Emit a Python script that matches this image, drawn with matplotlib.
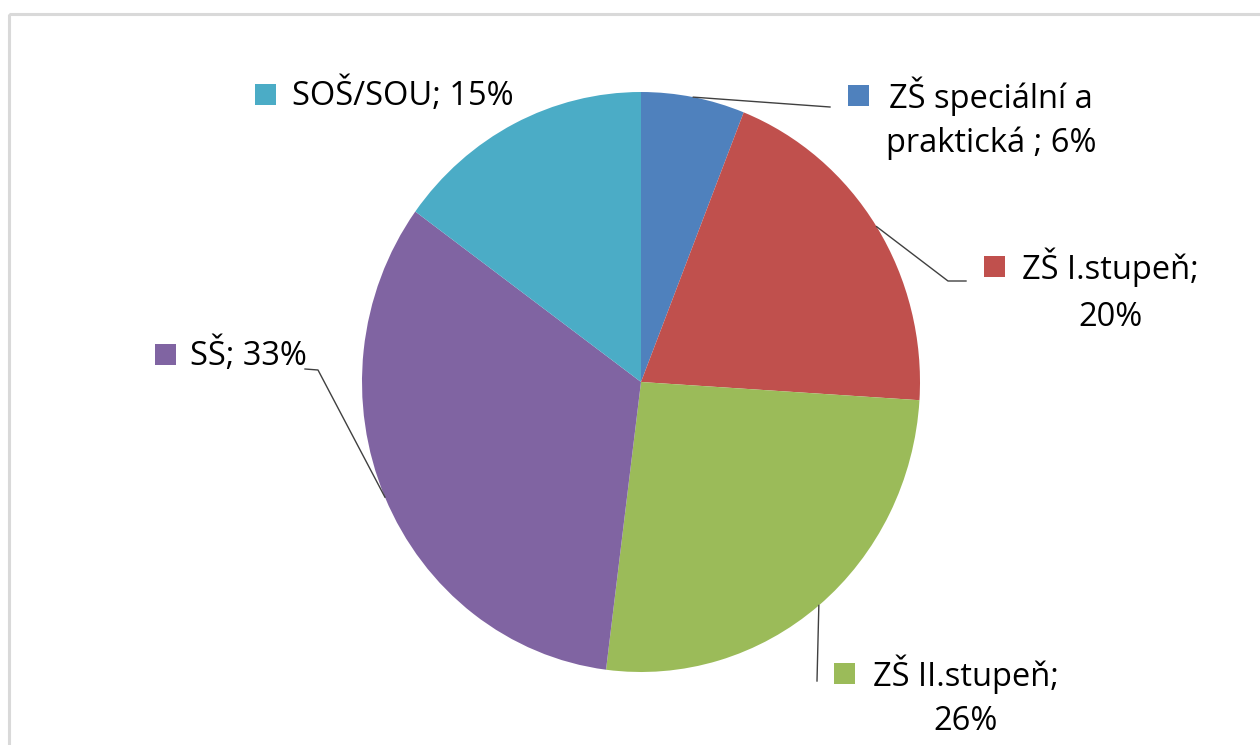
import matplotlib
matplotlib.use("Agg")
import matplotlib.pyplot as plt
import numpy as np

# data
labels = ["ZŠ speciální a praktická ", "ZŠ I.stupeň", "ZŠ II.stupeň", "SŠ", "SOŠ/SOU"]
values = [6, 20, 26, 33, 15]
colors = ["#4F81BD", "#C0504D", "#9BBB59", "#8064A2", "#4BACC6"]

# label text split in lines as in the original
label_lines = [
    ("ZŠ speciální a", "praktická ; 6%"),
    ("ZŠ I.stupeň;", "20%"),
    ("ZŠ II.stupeň;", "26%"),
    ("SŠ; 33%", None),
    ("SOŠ/SOU; 15%", None),
]
marker_pos = [(858, 95), (994, 266), (844, 673), (165, 354), (265, 94)]
text_left = [889, 1022, 873, 190, 292]
line_gap = [47, 51, 48, 0, 0]
leader_pts = [
    [(830, 107)],
    [(948, 281), (966, 281)],
    [(817, 681)],
    [(318, 370), (305, 369)],
    None,
]

W, H = 1260, 745
cx, cy, rx, ry = 641, 382, 279, 290

plt.rcParams['font.family'] = ['Open Sans', 'DejaVu Sans']
fig = plt.figure(figsize=(W / 100, H / 100), dpi=100)

# pie axes (slightly elliptical like the original)
pax = fig.add_axes([(cx - rx) / W, (H - cy - ry) / H, 2 * rx / W, 2 * ry / H])
wedges, _ = pax.pie(values, colors=colors, startangle=90, counterclock=False,
                    wedgeprops=dict(linewidth=0))
pax.set_aspect('auto')
pax.set_xlim(-1, 1)
pax.set_ylim(-1, 1)
pax.axis('off')

# overlay in pixel coordinates
ax = fig.add_axes([0, 0, 1, 1], zorder=3)
ax.set_xlim(0, W)
ax.set_ylim(H, 0)
ax.axis('off')
ax.patch.set_alpha(0)

# frame
ax.add_patch(plt.Rectangle((9, 14), W, H, fill=False, edgecolor="#d9d9d9", lw=2.2))

fs = 23.5
renderer = fig.canvas.get_renderer()
for i, w in enumerate(wedges):
    mid = np.deg2rad((w.theta1 + w.theta2) / 2)
    sx, sy = cx + rx * np.cos(mid), cy - ry * np.sin(mid)
    if leader_pts[i] is not None:
        pts = [(sx, sy)] + leader_pts[i]
        ax.plot([p[0] for p in pts], [p[1] for p in pts], color="#404040", lw=1.0)
    mx, my = marker_pos[i]
    ax.add_patch(plt.Rectangle((mx - 10.5, my - 10.5), 21, 21, facecolor=colors[i],
                               edgecolor="none"))
    l1, l2 = label_lines[i]
    t = ax.text(text_left[i], my + 1, l1, fontsize=fs, ha='left', va='center', color='black')
    if l2:
        bb = t.get_window_extent(renderer)
        xc = (bb.x0 + bb.x1) / 2
        ax.text(xc, my + 1 + line_gap[i], l2, fontsize=fs, ha='center', va='center',
                color='black')

fig.savefig("out.png", dpi=100)
